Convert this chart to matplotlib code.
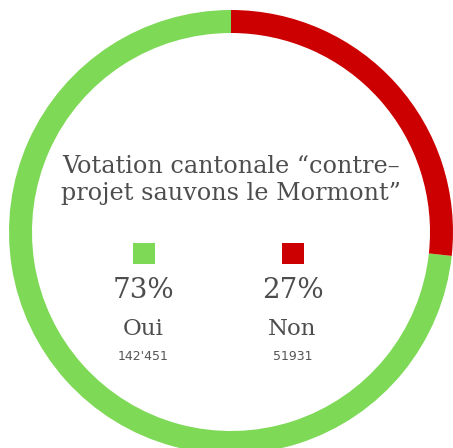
import matplotlib
matplotlib.use("Agg")
import matplotlib.pyplot as plt
from matplotlib.patches import Rectangle

# data
labels = ["Oui", "Non"]
votes = [142451, 51931]
vote_labels = ["142'451", "51931"]
percents = ["73%", "27%"]
colors = ["#7ed957", "#cc0000"]
title = "Votation cantonale \u201ccontre\u2013\nprojet sauvons le Mormont\u201d"

W, H = 453, 448
fig = plt.figure(figsize=(W / 100, H / 100), dpi=100)
ax = fig.add_axes([0, 0, 1, 1])

cx, cy, r = 231, H - 232, 222
# green goes counter-clockwise from the top, red ends up top-right
ax.pie(votes, colors=colors, startangle=90, counterclock=True,
       center=(cx, cy), radius=r, frame=True,
       wedgeprops=dict(width=23, linewidth=0))
ax.set_xlim(0, W)
ax.set_ylim(0, H)
ax.set_aspect("equal")
ax.axis("off")

txt = "#4d4d4d"
ax.text(cx, H - 180, title, ha="center", va="center", fontsize=17.2,
        family="DejaVu Serif", color=txt, linespacing=1.25)

xs = [143.5, 292.5]
for i in range(2):
    x = xs[i]
    ax.add_patch(Rectangle((x - 11, H - 264), 22, 21, color=colors[i], lw=0))
    ax.text(x, H - 291, percents[i], ha="center", va="center", fontsize=20,
            family="DejaVu Serif", color=txt)
    ax.text(x, H - 329, labels[i], ha="center", va="center", fontsize=16.5,
            family="DejaVu Serif", color=txt)
    ax.text(x, H - 357, vote_labels[i], ha="center", va="center", fontsize=9,
            family="DejaVu Sans", color="#555555")

fig.savefig("out.png", dpi=100)
